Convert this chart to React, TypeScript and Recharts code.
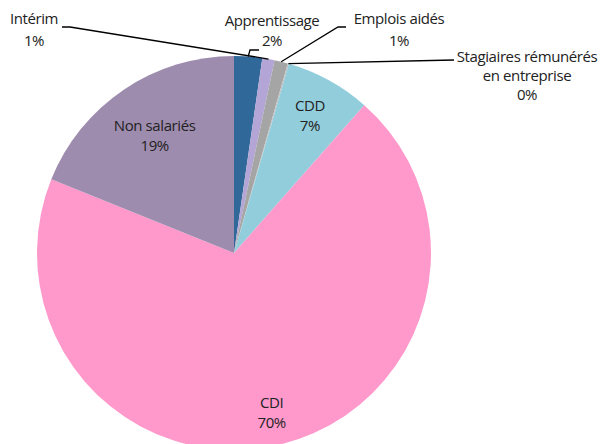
import { Pie, PieChart, Cell } from 'recharts'

const names = ['Apprentissage', 'Intérim', 'Emplois aidés', 'Stagiaires rémunérés en entreprise', 'CDD', 'CDI', 'Non salariés']
const shares = [2.3, 1.0, 1.1, 0.1, 7.0, 69.6, 18.9]
const colors = ['#31689A', '#B3A5D5', '#A5A5A5', '#C0C0C0', '#92CDDC', '#FF99CC', '#9E8CAE']

const data = names.map((name, i) => ({ name, value: shares[i] }))

// inside labels: radius factor; outside labels: text box + leader line bend points
const inside: Record<string, number> = { CDD: 0.8, CDI: 0.83, 'Non salariés': 0.72 }
const outside: Record<string, { x: number; lines: string[]; y0: number; step: number; path: [number, number][] }> = {
  Apprentissage: { x: 272, lines: ['Apprentissage'], y0: 22, step: 20, path: [[250, 50], [259, 50]] },
  'Intérim': { x: 34, lines: ['Intérim'], y0: 20, step: 22, path: [[70, 27], [62, 27]] },
  'Emplois aidés': { x: 399, lines: ['Emplois aidés'], y0: 20, step: 22, path: [[338, 27], [346, 27]] },
  'Stagiaires rémunérés en entreprise': { x: 527, lines: ['Stagiaires rémunérés', 'en entreprise'], y0: 58, step: 19, path: [[454, 60]] },
}

const RAD = Math.PI / 180

function renderLabel(props: any) {
  const { cx, cy, midAngle, outerRadius, name, value } = props
  const pct = `${Math.round(value)}%`
  const cos = Math.cos(-midAngle * RAD)
  const sin = Math.sin(-midAngle * RAD)
  if (inside[name] !== undefined) {
    const r = outerRadius * inside[name]
    const x = cx + r * cos
    const y = cy + r * sin
    return (
      <text x={x} y={y} textAnchor="middle" fontSize={15} fill="#222">
        <tspan x={x} dy={-4}>{name}</tspan>
        <tspan x={x} dy={20}>{pct}</tspan>
      </text>
    )
  }
  const o = outside[name]
  if (!o) return null
  const sx = cx + outerRadius * cos
  const sy = cy + outerRadius * sin
  const pts = [[sx, sy], ...o.path].map(p => p.join(',')).join(' ')
  return (
    <g>
      <polyline points={pts} fill="none" stroke="#000" strokeWidth={1.3} />
      <text textAnchor="middle" fontSize={15} fill="#222" dominantBaseline="middle">
        {[...o.lines, pct].map((t, i) => (
          <tspan key={i} x={o.x} y={o.y0 + i * o.step}>{t}</tspan>
        ))}
      </text>
    </g>
  )
}

export default function App() {
  return (
    <div style={{ position: 'absolute', left: 0, top: 0, background: '#fff', fontFamily: '"Open Sans", sans-serif', letterSpacing: -0.4 }}>
      <PieChart width={601} height={444} margin={{ top: 0, right: 0, bottom: 0, left: 0 }}>
        <Pie
          data={data}
          dataKey="value"
          nameKey="name"
          cx={234}
          cy={253}
          outerRadius={197}
          startAngle={90}
          endAngle={-270}
          stroke="none"
          label={renderLabel}
          labelLine={false}
          isAnimationActive={false}
        >
          {data.map((d, i) => <Cell key={d.name} fill={colors[i]} />)}
        </Pie>
      </PieChart>
    </div>
  )
}
